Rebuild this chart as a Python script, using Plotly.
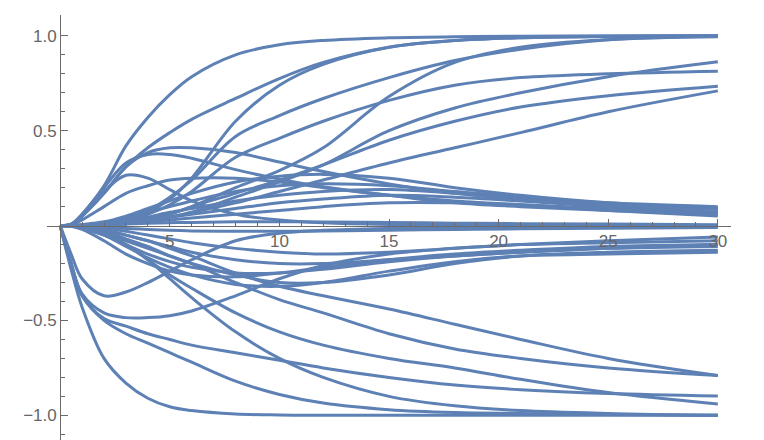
import plotly.graph_objects as go

# sample abscissae (time)
x_vals = [0, 0.5, 1, 2, 3, 4, 5, 6, 8, 10, 12, 15, 18, 21, 25, 30]

# ---- upper family ----
u_a  = [0, 0.008, 0.06, 0.21, 0.42, 0.57, 0.69, 0.785, 0.90, 0.953, 0.976, 0.99, 0.996, 0.998, 1.0, 1.0]
u_b  = [0, 0.006, 0.05, 0.17, 0.31, 0.41, 0.49, 0.56, 0.67, 0.775, 0.86, 0.94, 0.975, 0.99, 0.997, 1.0]
u_c1 = [0, 0, 0.002, 0.01, 0.03, 0.07, 0.14, 0.25, 0.55, 0.74, 0.85, 0.94, 0.975, 0.99, 0.997, 1.0]
u_c2 = [0, 0, 0.002, 0.012, 0.035, 0.08, 0.15, 0.24, 0.47, 0.58, 0.67, 0.78, 0.87, 0.93, 0.98, 0.998]
u_fl = [0, 0, 0.001, 0.008, 0.025, 0.06, 0.11, 0.18, 0.36, 0.46, 0.55, 0.66, 0.74, 0.78, 0.80, 0.814]
u_c3 = [0, 0, 0.001, 0.005, 0.015, 0.035, 0.06, 0.10, 0.20, 0.29, 0.41, 0.68, 0.86, 0.94, 0.98, 0.995]
u_e5 = [0, 0, 0.001, 0.004, 0.01, 0.025, 0.045, 0.07, 0.15, 0.23, 0.32, 0.50, 0.62, 0.70, 0.785, 0.863]
u_e6 = [0, 0, 0.001, 0.005, 0.015, 0.035, 0.06, 0.10, 0.17, 0.24, 0.32, 0.45, 0.55, 0.625, 0.685, 0.735]
u_e7 = [0, 0, 0.001, 0.003, 0.01, 0.025, 0.045, 0.07, 0.12, 0.18, 0.24, 0.33, 0.41, 0.49, 0.60, 0.71]
u_h1 = [0, 0.006, 0.05, 0.17, 0.31, 0.385, 0.41, 0.41, 0.385, 0.335, 0.285, 0.22, 0.17, 0.14, 0.11, 0.09]
u_h2 = [0, 0.007, 0.06, 0.20, 0.33, 0.375, 0.375, 0.355, 0.295, 0.245, 0.205, 0.16, 0.13, 0.11, 0.09, 0.07]
u_h3 = [0, 0.006, 0.05, 0.18, 0.265, 0.25, 0.19, 0.13, 0.06, 0.03, 0.015, 0.006, 0.003, 0.001, 0, 0]
u_s1 = [0, 0, 0.005, 0.02, 0.05, 0.09, 0.13, 0.17, 0.23, 0.26, 0.27, 0.25, 0.20, 0.16, 0.12, 0.09]
u_s2 = [0, 0, 0.003, 0.015, 0.04, 0.07, 0.10, 0.13, 0.18, 0.21, 0.22, 0.21, 0.18, 0.15, 0.12, 0.10]
u_s3 = [0, 0, 0.002, 0.01, 0.025, 0.045, 0.07, 0.09, 0.13, 0.16, 0.18, 0.19, 0.17, 0.14, 0.11, 0.085]
u_s4 = [0, 0, 0.001, 0.006, 0.015, 0.03, 0.045, 0.06, 0.09, 0.12, 0.14, 0.16, 0.15, 0.13, 0.10, 0.07]
u_s5 = [0, 0, 0.001, 0.004, 0.01, 0.02, 0.03, 0.04, 0.06, 0.08, 0.10, 0.12, 0.12, 0.11, 0.08, 0.05]
u_s6 = [0, 0.003, 0.03, 0.10, 0.17, 0.21, 0.24, 0.25, 0.25, 0.23, 0.20, 0.16, 0.12, 0.10, 0.08, 0.06]
u_z1 = [0, 0, 0.001, 0.004, 0.008, 0.012, 0.015, 0.017, 0.02, 0.02, 0.019, 0.016, 0.013, 0.01, 0.008, 0.005]

# ---- lower family ----
l_1  = [0, -0.23, -0.43, -0.70, -0.83, -0.91, -0.955, -0.975, -0.993, -0.998, -1, -1, -1, -1, -1, -1]
l_d1 = [0, -0.15, -0.28, -0.37, -0.35, -0.30, -0.24, -0.18, -0.08, -0.04, -0.025, -0.015, -0.01, -0.008, -0.005, -0.003]
l_d2 = [0, -0.20, -0.36, -0.46, -0.485, -0.485, -0.475, -0.45, -0.37, -0.28, -0.21, -0.15, -0.12, -0.10, -0.09, -0.08]
l_4  = [0, -0.20, -0.37, -0.49, -0.53, -0.57, -0.60, -0.63, -0.67, -0.71, -0.75, -0.80, -0.84, -0.865, -0.885, -0.898]
l_5  = [0, -0.20, -0.37, -0.50, -0.57, -0.62, -0.67, -0.72, -0.82, -0.89, -0.935, -0.97, -0.985, -0.99, -0.995, -1.0]
l_f6 = [0, -0.002, -0.01, -0.04, -0.10, -0.18, -0.28, -0.38, -0.56, -0.70, -0.80, -0.90, -0.95, -0.975, -0.99, -1.0]
l_f3 = [0, -0.001, -0.008, -0.04, -0.10, -0.18, -0.26, -0.33, -0.46, -0.56, -0.63, -0.70, -0.75, -0.81, -0.88, -0.94]
l_f2 = [0, -0.001, -0.006, -0.03, -0.07, -0.11, -0.16, -0.20, -0.30, -0.39, -0.46, -0.57, -0.65, -0.70, -0.75, -0.79]
l_f1 = [0, 0, -0.004, -0.02, -0.05, -0.08, -0.12, -0.16, -0.25, -0.32, -0.37, -0.44, -0.52, -0.60, -0.70, -0.79]
l_m1 = [0, -0.003, -0.02, -0.08, -0.15, -0.20, -0.24, -0.26, -0.27, -0.25, -0.22, -0.18, -0.15, -0.13, -0.11, -0.10]
l_m2 = [0, -0.002, -0.015, -0.05, -0.10, -0.15, -0.19, -0.22, -0.25, -0.25, -0.23, -0.19, -0.16, -0.14, -0.12, -0.11]
l_m3 = [0, -0.001, -0.01, -0.04, -0.08, -0.12, -0.16, -0.20, -0.26, -0.30, -0.30, -0.26, -0.20, -0.16, -0.14, -0.13]
l_m4 = [0, -0.001, -0.005, -0.02, -0.05, -0.08, -0.11, -0.14, -0.18, -0.20, -0.20, -0.18, -0.16, -0.14, -0.12, -0.10]
l_m5 = [0, 0, -0.003, -0.012, -0.03, -0.05, -0.07, -0.09, -0.12, -0.14, -0.15, -0.14, -0.12, -0.10, -0.08, -0.06]
l_m6 = [0, 0, -0.002, -0.008, -0.015, -0.02, -0.025, -0.028, -0.03, -0.03, -0.028, -0.024, -0.02, -0.017, -0.014, -0.01]
l_m7 = [0, -0.002, -0.012, -0.05, -0.11, -0.17, -0.22, -0.26, -0.31, -0.32, -0.30, -0.24, -0.19, -0.16, -0.15, -0.14]

series = [u_a, u_b, u_c1, u_c2, u_fl, u_c3, u_e5, u_e6, u_e7, u_h1, u_h2, u_h3,
          u_s1, u_s2, u_s3, u_s4, u_s5, u_s6, u_z1,
          l_1, l_d1, l_d2, l_4, l_5, l_f6, l_f3, l_f2, l_f1,
          l_m1, l_m2, l_m3, l_m4, l_m5, l_m6, l_m7]

# axis ticks
x_major = [5, 10, 15, 20, 25, 30]
x_major_text = ["5", "10", "15", "20", "25", "30"]
x_minor = [v for v in range(1, 31) if v % 5 != 0]
y_major = [-1.0, -0.5, 0.5, 1.0]
y_major_text = ["\u22121.0", "\u22120.5", "0.5", "1.0"]
y_minor = [-1.1, -0.9, -0.8, -0.7, -0.6, -0.4, -0.3, -0.2, -0.1,
           0.1, 0.2, 0.3, 0.4, 0.6, 0.7, 0.8, 0.9]

LINE = "#5E81B5"
AXIS = "#6b6b6b"
X_RANGE = [-0.6, 30.6]
Y_RANGE = [-1.13, 1.11]

fig = go.Figure()
for s in series:
    fig.add_trace(go.Scatter(x=x_vals, y=s, mode="lines",
                             line=dict(color=LINE, width=3.0, shape="spline", smoothing=1.0),
                             hoverinfo="skip", showlegend=False))

# the page body adds an 8px margin, so the figure is sized/offset to compensate
fig.update_layout(
    width=756, height=432,
    margin=dict(l=39, r=33, t=7, b=0, autoexpand=False),
    paper_bgcolor="white", plot_bgcolor="white",
    showlegend=False,
    font=dict(family="Liberation Sans, Arial, sans-serif", size=17, color="#666666"),
    xaxis=dict(range=X_RANGE, showgrid=False, zeroline=False,
               showline=True, linecolor=AXIS, linewidth=1,
               anchor="free", position=(0 - Y_RANGE[0]) / (Y_RANGE[1] - Y_RANGE[0]),
               tickmode="array", tickvals=x_major, ticktext=x_major_text,
               ticks="inside", ticklen=7, tickcolor=AXIS, tickwidth=1,
               minor=dict(tickmode="array", tickvals=x_minor, ticks="inside",
                          ticklen=4, tickcolor=AXIS, showgrid=False),
               tickfont=dict(size=17, color="#666666"), layer="above traces"),
    yaxis=dict(range=Y_RANGE, showgrid=False, zeroline=False,
               showline=True, linecolor=AXIS, linewidth=1,
               anchor="free", position=(0 - X_RANGE[0]) / (X_RANGE[1] - X_RANGE[0]),
               tickmode="array", tickvals=y_major, ticktext=y_major_text,
               ticks="inside", ticklen=7, tickcolor=AXIS, tickwidth=1,
               minor=dict(tickmode="array", tickvals=y_minor, ticks="inside",
                          ticklen=4, tickcolor=AXIS, showgrid=False),
               tickfont=dict(size=17, color="#666666"), layer="above traces"),
)

fig.write_html("out.html")
